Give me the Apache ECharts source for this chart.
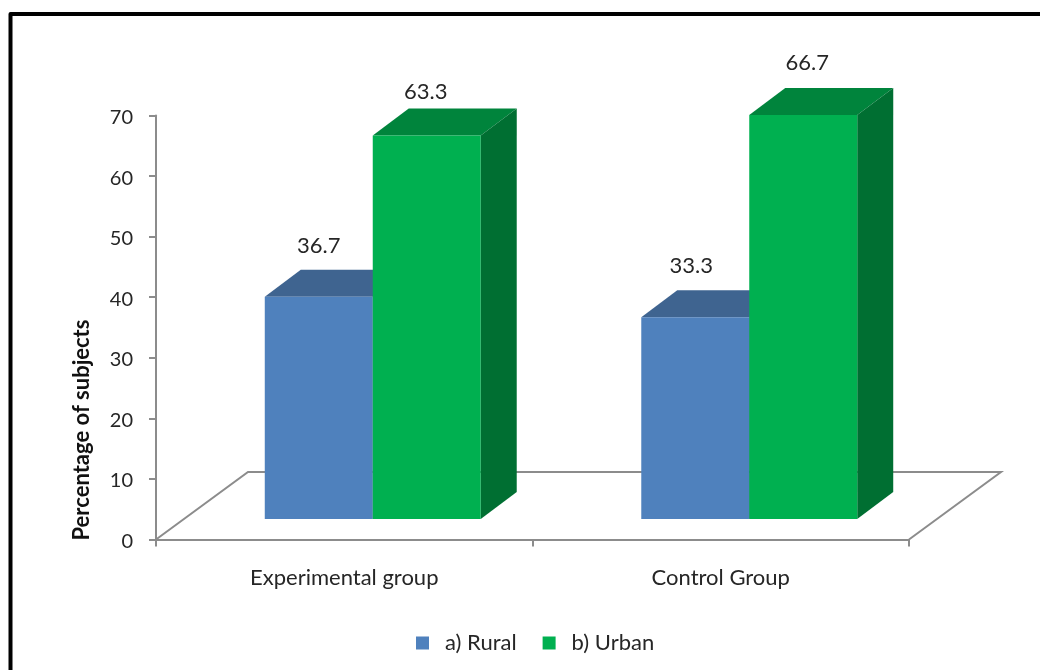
<!DOCTYPE html>
<html>
<head>
<meta charset="utf-8">
<style>
  html, body { margin: 0; padding: 0; background: #fff; }
  #chart { width: 1040px; height: 670px; }
</style>
<script src="https://cdn.jsdelivr.net/npm/echarts@6/dist/echarts.min.js"></script>
</head>
<body>
<div id="chart"></div>
<script>
// Chart values
const categories = ['Experimental group', 'Control Group'];
const ruralValues = [36.7, 33.3];
const urbanValues = [63.3, 66.7];
const yTicks = { min: 0, max: 70, step: 10 };

// Pseudo-3D projection of the bars and the floor, in pixels
const FONT = 'Lato, "Open Sans", sans-serif';
const TEXT = '#262626';
const AXIS = '#8c8c8c';
const depth = { x: 36, y: 27 };
const floorDepth = { x: 92, y: 67.5 };
const barInset = { x: 28.5, y: 20.5 };
const barBandRatio = 0.2868;

const palette = {
  rural: { front: '#4F81BD', top: '#3F6490', side: '#335277' },
  urban: { front: '#00B050', top: '#00843C', side: '#006F32' }
};

// Small hand placement of the value labels above each bar: [dx, dy from rear top edge]
const ruralLabelShift = [[0, -24], [-4, -24]];
const urbanLabelShift = [[-1, -17], [4, -25]];

function poly(points, fill) {
  return { type: 'polygon', shape: { points }, style: { fill }, silent: true };
}

function renderBar(colors, shifts, side) {
  return function (params, api) {
    const i = api.value(0);
    const value = api.value(1);
    const top = api.coord([i, value]);
    const base = api.coord([i, 0]);
    const barW = api.size([1, 0])[0] * barBandRatio;
    const seam = top[0] + barInset.x;
    const x0 = side < 0 ? seam - barW : seam;
    const x1 = x0 + barW;
    const yT = top[1] - barInset.y;
    const yB = base[1] - barInset.y;
    const d = depth;
    const shift = shifts[params.dataIndex];
    return {
      type: 'group',
      children: [
        poly([[x0, yT], [x1, yT], [x1 + d.x, yT - d.y], [x0 + d.x, yT - d.y]], colors.top),
        poly([[x1, yT], [x1 + d.x, yT - d.y], [x1 + d.x, yB - d.y], [x1, yB]], colors.side),
        poly([[x0, yT], [x1, yT], [x1, yB], [x0, yB]], colors.front),
        {
          type: 'text',
          silent: true,
          style: {
            x: (x0 + x1) / 2 + shift[0],
            y: yT - d.y + shift[1],
            text: value.toFixed(1),
            fill: TEXT,
            font: '22px ' + FONT,
            align: 'center',
            verticalAlign: 'middle'
          }
        }
      ]
    };
  };
}

function renderFloor(params, api) {
  const c = params.coordSys;
  const x0 = c.x, x1 = c.x + c.width, y0 = c.y + c.height;
  const backY = y0 - floorDepth.y;
  return {
    type: 'polyline',
    silent: true,
    shape: {
      points: [[x0, y0], [x0 + floorDepth.x, backY], [x1 + floorDepth.x, backY], [x1, y0]]
    },
    style: { stroke: AXIS, lineWidth: 2, fill: 'none', lineJoin: 'miter' }
  };
}

const toRows = values => values.map((v, i) => [i, v]);

const option = {
  backgroundColor: '#fff',
  animation: false,
  grid: { left: 156, right: 131, top: 115.5, bottom: 130.5, containLabel: false },
  graphic: [{
    type: 'polyline',
    silent: true,
    shape: { points: [[10.5, 690], [10.5, 14], [1060, 14]] },
    style: { stroke: '#000', lineWidth: 4, fill: 'none', lineJoin: 'round' }
  }],
  legend: {
    data: ['a) Rural', 'b) Urban'],
    icon: 'rect',
    itemWidth: 13,
    itemHeight: 13,
    itemGap: 26,
    left: 411,
    top: 627,
    selectedMode: false,
    textStyle: { fontFamily: FONT, fontSize: 22, color: TEXT, padding: [0, 0, 0, 11] }
  },
  xAxis: {
    type: 'category',
    data: categories,
    axisLine: { onZero: false, lineStyle: { color: AXIS, width: 2 } },
    axisTick: { show: true, alignWithLabel: false, length: 7, lineStyle: { color: AXIS, width: 2 } },
    axisLabel: { fontFamily: FONT, fontSize: 22, color: TEXT, margin: 27 }
  },
  yAxis: {
    type: 'value',
    min: yTicks.min,
    max: yTicks.max,
    interval: yTicks.step,
    name: 'Percentage of subjects',
    nameLocation: 'middle',
    nameRotate: 90,
    nameGap: 63,
    nameTextStyle: {
      fontFamily: FONT,
      fontSize: 22,
      fontWeight: 'bold',
      color: '#111',
      padding: [0, 205, 0, 0]
    },
    splitLine: { show: false },
    axisLine: { show: true, lineStyle: { color: AXIS, width: 2 } },
    axisTick: { show: true, length: 7, lineStyle: { color: AXIS, width: 2 } },
    axisLabel: {
      fontFamily: FONT,
      fontSize: 20,
      color: TEXT,
      margin: 23,
      verticalAlign: 'top',
      lineHeight: 4
    }
  },
  series: [
    { name: 'floor', type: 'custom', data: [[0, 0]], renderItem: renderFloor, silent: true, z: 1 },
    {
      name: 'a) Rural',
      type: 'custom',
      data: toRows(ruralValues),
      encode: { x: 0, y: 1 },
      itemStyle: { color: palette.rural.front },
      renderItem: renderBar(palette.rural, ruralLabelShift, -1),
      z: 2
    },
    {
      name: 'b) Urban',
      type: 'custom',
      data: toRows(urbanValues),
      encode: { x: 0, y: 1 },
      itemStyle: { color: palette.urban.front },
      renderItem: renderBar(palette.urban, urbanLabelShift, 1),
      z: 3
    }
  ]
};

echarts.init(document.getElementById('chart')).setOption(option);
</script>
</body>
</html>
